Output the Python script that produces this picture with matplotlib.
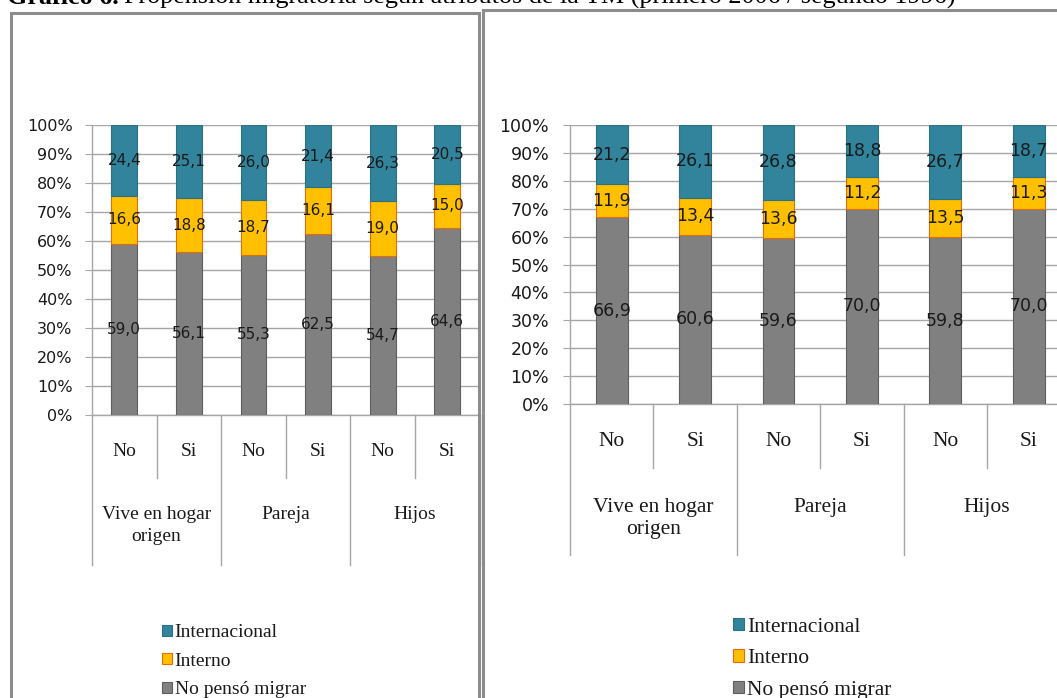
import numpy as np
import matplotlib
matplotlib.use("Agg")
import matplotlib.pyplot as plt
from matplotlib.patches import Rectangle

# --- data -------------------------------------------------------------
sub_labels = ["No", "Si", "No", "Si", "No", "Si"]
group_labels = ["Vive en hogar\norigen", "Pareja", "Hijos"]
series_names = ["No pensó migrar", "Interno", "Internacional"]

# 2006 (left chart)
no_penso_2006 = [59.0, 56.1, 55.3, 62.5, 54.7, 64.6]
interno_2006 = [16.6, 18.8, 18.7, 16.1, 19.0, 15.0]
internac_2006 = [24.4, 25.1, 26.0, 21.4, 26.3, 20.5]

# 1996 (right chart)
no_penso_1996 = [66.9, 60.6, 59.6, 70.0, 59.8, 70.0]
interno_1996 = [11.9, 13.4, 13.6, 11.2, 13.5, 11.3]
internac_1996 = [21.2, 26.1, 26.8, 18.8, 26.7, 18.7]

colors = ["#808080", "#FFC000", "#31849B"]
edges = ["#5E5E5E", "#E46C0A", "#2B7084"]

W, H = 1057, 698
fig = plt.figure(figsize=(W / 100, H / 100), dpi=100)

SERIF = "Liberation Serif"
SANS = "DejaVu Sans"
GRID = "#A6A6A6"


def px_axes(l, t, r, b):
    return fig.add_axes([l / W, (H - b) / H, (r - l) / W, (b - t) / H])


def draw_chart(ax, series, bar_w, tick_fs, lab_fs, cat_fs, geo):
    x = np.arange(len(sub_labels))
    bottom = np.zeros(len(x))
    for vals, c, ec in zip(series, colors, edges):
        vals = np.array(vals)
        ax.bar(x, vals, bar_w, bottom=bottom, color=c, edgecolor=ec,
               linewidth=0.8, zorder=3)
        for xi, b, v in zip(x, bottom, vals):
            ax.text(xi, b + v / 2, f"{v:.1f}".replace(".", ","), ha="center",
                    va="center", fontsize=lab_fs, family=SANS,
                    color="#1A1A1A", zorder=4)
        bottom = bottom + vals

    ax.set_xlim(-0.5, len(x) - 0.5)
    ax.set_ylim(0, 100)
    ax.set_yticks(np.arange(0, 101, 10))
    ax.set_yticklabels([f"{v}%" for v in range(0, 101, 10)],
                       fontsize=tick_fs, family=SANS, color="#1A1A1A")
    ax.tick_params(axis="y", length=5, color=GRID, pad=geo["pad"])
    ax.set_xticks([])
    ax.yaxis.grid(True, color=GRID, linewidth=1)
    ax.set_axisbelow(True)
    for s in ["top", "right"]:
        ax.spines[s].set_visible(False)
    for s in ["left", "bottom"]:
        ax.spines[s].set_color(GRID)
        ax.spines[s].set_linewidth(1)

    # multi-level category axis
    h_px = geo["h"]
    tr = ax.get_xaxis_transform()
    for xi, lab in zip(x, sub_labels):
        ax.text(xi, -geo["sub"] / h_px, lab, transform=tr, ha="center",
                va="center", fontsize=cat_fs, family=SERIF, color="#1A1A1A")
    for g, lab in enumerate(group_labels):
        ax.text(2 * g + 0.5, -geo["grp"] / h_px, lab, transform=tr,
                ha="center", va="top", fontsize=cat_fs, family=SERIF,
                color="#1A1A1A", linespacing=geo["ls"])
    for k in range(len(x) + 1):
        xb = k - 0.5
        depth = geo["long"] if k % 2 == 0 else geo["short"]
        ax.plot([xb, xb], [0, -depth / h_px], transform=tr, color=GRID,
                linewidth=1, clip_on=False, zorder=2)

    leg = ax.legend(handles=ax.containers[::-1], labels=series_names[::-1],
                    loc="upper left", bbox_to_anchor=geo["leg"],
                    bbox_transform=fig.transFigure, frameon=False,
                    prop={"family": SERIF, "size": geo["leg_fs"]},
                    handlelength=0.5, handleheight=0.5, handletextpad=0.15,
                    labelspacing=geo["leg_sp"], borderpad=0,
                    borderaxespad=0)
    for t in leg.get_texts():
        t.set_color("#1A1A1A")


# left chart (2006)
ax1 = px_axes(92, 125, 479.6, 415)
draw_chart(ax1, [no_penso_2006, interno_2006, internac_2006], 0.40,
           11.5, 11, 14,
           dict(h=290, sub=37, grp=91, short=63, long=150, ls=1.4, pad=9,
                leg=(162 / W, 1 - 624 / H), leg_fs=14, leg_sp=0.6))

# right chart (1996)
ax2 = px_axes(570, 125, 570 + 6 * 83.4, 404)
draw_chart(ax2, [no_penso_1996, interno_1996, internac_1996], 0.38,
           12.5, 12.5, 15.5,
           dict(h=279, sub=38, grp=94, short=64, long=151, ls=1.2, pad=10,
                leg=(733 / W, 1 - 618 / H), leg_fs=15.5, leg_sp=0.57))

# panel frames
fig.add_artist(Rectangle((11 / W, -0.1), (479 - 11) / W, 1.1 - 13 / H,
                         transform=fig.transFigure, fill=False,
                         edgecolor="#8C8C8C", linewidth=2.2))
fig.add_artist(Rectangle((483 / W, -0.1), 0.6, 1.1 - 10 / H,
                         transform=fig.transFigure, fill=False,
                         edgecolor="#8C8C8C", linewidth=2.2))

# title (mostly cut off at the top of the picture, as in the original)
t1 = fig.text(7 / W, 1 - 4 / H, "Gráfico 6.", family=SERIF, fontsize=18.8,
              fontweight="bold", va="baseline", ha="left")
fig.canvas.draw()
bb = t1.get_window_extent()
fig.text(bb.x1 / W + 5 / W, 1 - 4 / H,
         "Propensión migratoria según atributos de la TM (primero 2006 / segundo 1996)",
         family=SERIF, fontsize=18.8, va="baseline", ha="left")

fig.savefig("out.png", dpi=100)
